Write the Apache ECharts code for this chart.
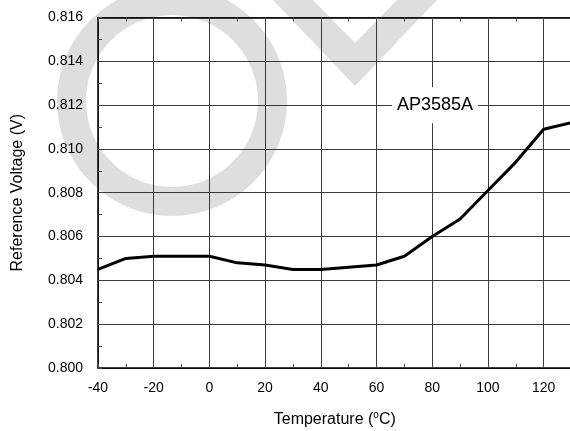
<!DOCTYPE html>
<html>
<head>
<meta charset="utf-8">
<script src="https://cdn.jsdelivr.net/npm/echarts@6/dist/echarts.min.js"></script>
<style>
html,body{margin:0;padding:0;background:#fff;}
#chart{width:570px;height:431px;}
</style>
</head>
<body>
<div id="chart"></div>
<script>
const temps = [-40,-30,-20,-10,0,10,20,30,40,50,60,70,80,90,100,110,120,130];
const vref = [0.8045,0.8050,0.8051,0.8051,0.8051,0.8048,0.8047,0.8045,0.8045,0.8046,0.8047,0.8051,0.8060,0.8068,0.8081,0.8094,0.8109,0.8112];
const seriesName = 'AP3585A';
const yTitle = 'Reference Voltage (V)';

const chart = echarts.init(document.getElementById('chart'));
const FONT = 'Liberation Sans, Arial, sans-serif';
const gridLine = {show:true, lineStyle:{color:'#3a3a3a', width:1}};

chart.setOption({
  backgroundColor:'#fff',
  animation:false,
  graphic:{elements:[
    {type:'ring', z:-10, shape:{cx:172, cy:101, r:115, r0:86}, style:{fill:'#dedede'}},
    {type:'polygon', z:-10, shape:{points:[[273,0],[313,0],[355,43],[397,0],[437,0],[355,86]]}, style:{fill:'#dedede'}}
  ]},
  grid:{left:98, right:-1.5, top:17.5, bottom:63, containLabel:false, outerBoundsMode:'none'},
  xAxis:[{
    type:'value', min:-40, max:130, interval:20, position:'bottom',
    axisLine:{show:true, onZero:false, lineStyle:{color:'#000', width:1.5}},
    axisTick:{show:true, inside:true, length:4, lineStyle:{color:'#444'}},
    minorTick:{show:true, splitNumber:2, length:4, lineStyle:{color:'#444'}},
    splitLine:gridLine,
    axisLabel:{margin:13, fontSize:14, color:'#000', fontFamily:FONT, showMaxLabel:false,
      formatter:v => v===130 ? '' : String(v)},
    name:'{n|Temperature (}{sup|o}{n|C)}', nameLocation:'middle', nameGap:42,
    nameTextStyle:{fontSize:16, color:'#000', fontFamily:FONT,
      rich:{sup:{fontSize:10, lineHeight:10, verticalAlign:'top', color:'#000', fontFamily:FONT},
            n:{fontSize:16, lineHeight:20, color:'#000', fontFamily:FONT}}}
  },{
    type:'value', min:-40, max:130, interval:20, position:'top',
    axisLine:{show:true, onZero:false, lineStyle:{color:'#000', width:1.5}},
    axisTick:{show:true, inside:true, length:4, lineStyle:{color:'#444'}},
    minorTick:{show:true, splitNumber:2, length:4, lineStyle:{color:'#444'}},
    splitLine:{show:false}, axisLabel:{show:false}
  }],
  yAxis:{
    type:'value', min:0.800, max:0.816, interval:0.002,
    axisLine:{show:true, onZero:false, lineStyle:{color:'#000', width:1.5}},
    axisTick:{show:true, inside:true, length:4, lineStyle:{color:'#444'}},
    minorTick:{show:true, splitNumber:2, length:4, lineStyle:{color:'#444'}},
    splitLine:gridLine,
    axisLabel:{margin:15, fontSize:14, color:'#000', fontFamily:FONT, formatter:v => v.toFixed(3)},
    name:yTitle, nameLocation:'middle', nameGap:72,
    nameTextStyle:{fontSize:16, color:'#000', fontFamily:FONT}
  },
  series:[{
    type:'line', name:seriesName, xAxisIndex:0, symbol:'none',
    lineStyle:{color:'#000', width:3},
    data:temps.map((t,i)=>[t,vref[i]]),
    markPoint:{
      symbol:'rect', symbolSize:0, silent:true,
      label:{show:true, formatter:seriesName, fontSize:18, color:'#000', fontFamily:FONT,
        backgroundColor:'#fff', padding:[8,5,10,5]},
      data:[{coord:[81,0.812]}]
    }
  }]
});
</script>
</body>
</html>
